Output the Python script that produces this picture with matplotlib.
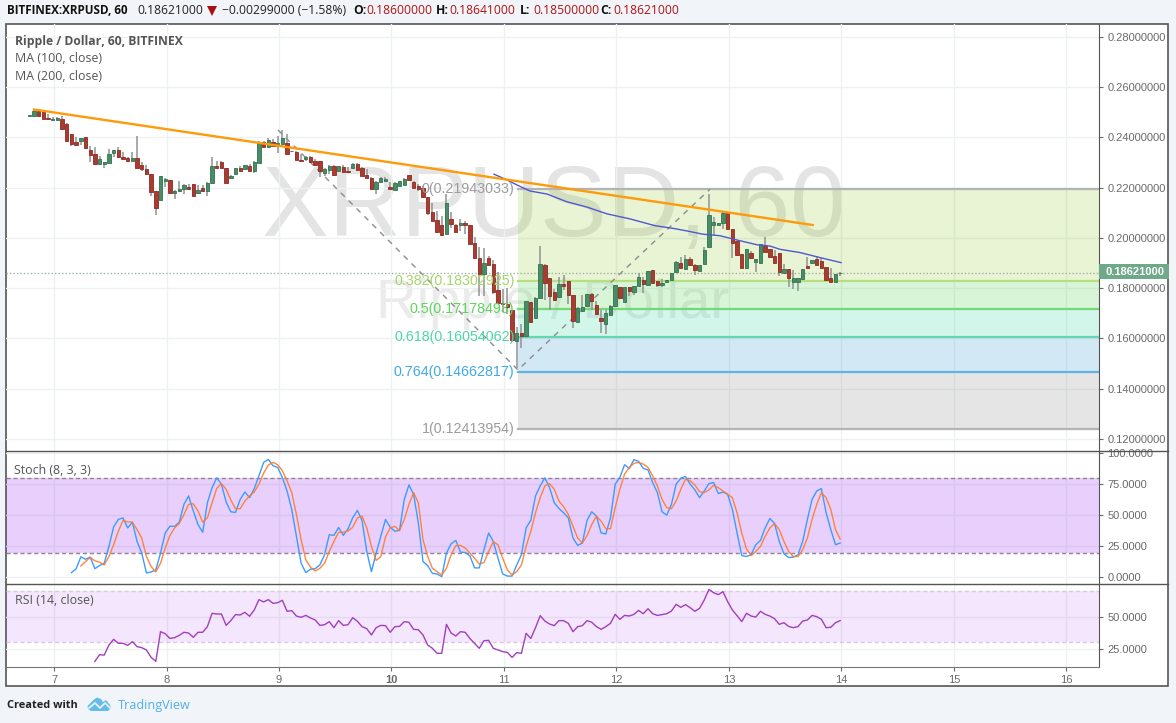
# XRP/USD hourly chart with stochastic and RSI panes
import numpy as np
import matplotlib
matplotlib.use('Agg')
import matplotlib.pyplot as plt
from matplotlib.patches import Rectangle, Polygon
from matplotlib.lines import Line2D

W, H = 1176, 723
BG = '#f1f4f8'
FRAME = '#555555'
GRID = '#eef0f2'
TICK = '#6a6a6a'
UI_FONT = ['Open Sans', 'DejaVu Sans']
AXIS_FONT = ['Liberation Sans', 'DejaVu Sans']

# hourly candles, price * 1000
opens = [248.5,248.4,250.4,250.1,247.6,246.9,246.9,247.2,245.5,241.3,
         238.3,238.8,240,235,233.5,229.5,229.6,230,234,235.2,
         232.4,231.9,230.8,231.9,229.1,227.6,225.5,218.8,215.2,222.7,
         223.2,218,218.8,219.3,220.4,221.6,218,219.9,218.8,221.7,
         228.8,230.4,228,223.7,225.5,228,227.5,228.8,226.5,230,
         238.1,236.4,238.3,236.5,237.5,237.9,234.8,234.3,231.2,231.3,
         232.3,230.5,230.5,225.7,227.1,228.8,226.8,228.1,226.8,228,
         229.6,228,225.2,223.9,219.5,222.1,222.7,220.4,219.2,220.5,
         221.1,224.9,222.4,220.8,219.9,216.3,210.4,207.1,205.1,201.7,
         207.5,205.1,205,206,205.1,198,192,185.7,192,189.6,
         179.4,174.1,173.7,171.3,159.1,162.2,160.9,174.4,168.3,176.3,
         189.4,184.1,178.7,176.5,181.6,182.7,177.5,166.6,170.9,173.1,
         177.9,173.5,168.1,165.9,169.5,172.8,180.3,174.7,180.3,178.7,
         180.7,183.2,181.1,187.2,182.7,181.2,182.4,183.2,186.5,190.2,
         187.8,191.5,189.4,186.9,189.5,196.3,205.2,205.2,205.8,209.8,
         203.6,198.8,193.5,187.9,194,190.3,190.1,197,195.5,192.8,
         193.9,185.9,187.7,182.6,182.4,183.6,188.9,189.9,191.7,190.9,
         188.3,184,182.6,186]
highs = [248.8,250.8,251.1,250.4,249.2,248.1,248.1,248.4,245.7,241.5,
         240.1,239.9,240.1,236.7,236.1,232.8,230.3,235.5,235.1,236.1,
         234.3,232.1,234.4,240.4,230.1,229.1,225.5,218.8,224.7,224,
         223.2,219,222.8,221.5,221.5,221.6,221.1,221.2,222.1,232.4,
         230.8,230.8,228,225.1,227.9,228.8,229.1,229.5,230.5,238.5,
         238.5,239.9,239.5,240.5,242.8,241.2,234.8,234.7,233.5,232.8,
         232.8,231.5,230.8,227.7,229.1,229.2,228.8,229.1,228.1,229.7,
         229.9,228.1,227.5,224.1,222.8,224.1,224.4,222.1,222.1,222.8,
         223.7,225.1,222.6,221.5,220.5,216.5,213.9,210.8,208.9,217.5,
         210.5,205.5,207.5,206.9,205.1,200.2,196.5,195.9,192.9,191.2,
         186.6,179.7,180.1,171.5,164.4,165.9,174.9,174.4,176.6,196.7,
         189.6,184.1,179.5,184.5,185.4,182.7,177.5,172.6,177.5,177.9,
         178.3,175,171.3,171.5,173.2,181.2,180.3,180.4,180.3,180.8,
         186.2,184.5,186.8,187.4,182.9,183.5,183.2,186.2,190.9,192.5,
         193.1,192.5,189.8,189.3,196.3,217.5,208.5,206.1,210.5,210,
         203.6,198.8,193.5,195.5,195,191.7,197.5,200.3,195.5,195.2,
         193.9,189.7,187.7,187.3,184,187.7,192.6,191.3,192.9,192.2,
         188.3,187.9,185.7,186.41]
lows = [248.5,248.4,248.5,247.2,247.1,246.8,246.8,243.2,238.7,236.5,
        237.1,237.2,235.3,230.1,229.5,229.2,227.9,230,232.4,231.9,
        231.5,230.4,230.8,227.7,226.8,225.2,216.8,209.2,215.2,220.1,
        218,215.7,218.5,217.7,219.5,216.7,217.7,218.5,216.8,221.7,
        227.9,227.9,221.9,223.7,225.2,226.7,227.3,226.5,225.9,230,
        236.3,236.4,236.5,234,237.5,233.5,234.5,231,230.7,230.5,
        230.3,229.1,224.1,224.8,225.5,225.1,226.1,226,225.9,227.9,
        227.1,224.7,223.9,219.2,217.7,222,222.4,219.5,219.1,220.5,
        221,223.2,220,218.8,216,209.1,206.6,202.2,200.9,201.6,
        204.1,202.2,202.6,201.6,197.7,191.6,176.8,177,189.1,177.7,
        174,170.4,169.7,158.5,148.2,156.4,160.9,166.3,168.3,176.3,
        175.5,171.3,174.9,176.3,179.2,173.6,164,166.5,170.9,173.1,
        171.5,169.7,162.2,161.6,169.4,172.7,175.8,174.7,177.1,177.2,
        180.7,178.1,180.9,181.9,180.3,180.3,181.9,183.2,186.5,188.1,
        187.8,189,185.2,186.9,189.5,196.3,201.2,205.2,203.5,203.4,
        192.2,193,187.9,187.7,191.8,186.3,189.9,194.4,192.2,189.9,
        185,185.9,180.4,179.7,178.9,183.5,187.9,189.9,189.1,187.8,
        183,182.2,182.4,185]
closes = [248.8,250.4,248.5,247.3,247.2,247.3,247.6,243.3,238.8,237.5,
          237.2,239.9,235.7,232.9,229.6,231.5,230.3,233.5,235.1,232.1,
          231.6,230.5,231.9,227.9,227.3,225.3,218.3,211.9,224.7,223.3,
          218,218.8,219.5,221.1,219.6,216.7,219.2,218.8,222,228.8,
          228,228,221.9,224.5,227.9,226.8,229.1,226.7,230.3,237.7,
          236.4,239.1,236.7,237.9,239.6,233.6,234.5,231.2,230.8,232.3,
          230.4,229.2,226.8,227.5,228.8,225.2,228.7,226.1,226.1,229.5,
          227.2,224.8,224,219.3,222.4,224,223.3,219.6,221.9,222.6,
          223.6,223.2,220,219.5,216.2,209.9,206.7,202.2,201.2,213.9,
          205.5,202.5,206,205,197.7,191.9,185.7,190,189.2,178.4,
          174.1,173.7,172.4,159.5,162.2,160.9,174.8,166.4,176.3,189.6,
          181.9,177.1,175.2,181.5,180.9,177.5,166.8,172.3,172.7,177.8,
          174.8,169.9,166.8,170,173.1,181.2,176,180.4,179.1,180.8,
          184.3,181.5,186.8,181.9,181.2,182,183.2,186.2,190.5,188.2,
          191.5,189.2,187.2,189.3,195.2,209.2,206.2,206.1,210.1,203.6,
          198,193.2,187.9,195.5,191.9,191.7,197.5,194.6,192.5,190.1,
          186.4,187.7,184,184.2,184,187.7,188.1,191.3,189.3,187.9,
          183.1,182.4,185.7,186.21]

# moving average line
ma_days = [10.911,11.027,11.116,11.231,11.382,11.56,11.738,11.916,12.12,12.342,12.52,
           12.627,12.769,12.92,13.071,13.249,13.364,13.453,13.631,13.809,13.996]
ma_vals = [225.4,223.1,221.1,218.7,217.5,214.4,212.3,209.6,207.6,204.9,203.7,
           202.8,201.5,200.9,199.2,197.3,196.8,195.5,194.2,192.2,190.2]

# trend line and the dashed fib anchor path
trend_days = [6.822, 13.744]
trend_vals = [251.14, 205.17]
anchor_days = [8.991, 11.124, 12.831]
anchor_vals = [243.0, 147.5, 219.43]

# fibonacci retracement
fib_start = 11.124
fib_ratio = ['0', '0.382', '0.5', '0.618', '0.764', '1']
fib_vals = [0.21943033, 0.18302925, 0.17178493, 0.16054062, 0.14662817, 0.12413954]
fib_line = ['#b4b4b4', '#b5e081', '#74d874', '#62d8b2', '#62b4e4', '#b4b4b4']
fib_text = ['#9c9c9c', '#a6d669', '#5bd65b', '#4ed6a6', '#3fa9e2', '#9c9c9c']
fib_fill = ['#8cc823', '#3ccd3c', '#23d296', '#238ccd', '#7f7f7f']

stoch_k = [3.8,6.8,16.5,14.6,16.3,7,9.5,11.4,25,40.7,46.7,48,39.9,44.5,29,19.5,3.5,4.3,6,19.5,
           35.8,41.2,41.2,44.5,58.9,65.7,53.5,42.6,36.4,60.2,72.4,80.3,75.2,60.8,52.9,52.4,62.9,68.9,64.3,71.6,
           81.9,92.8,95.2,90.1,88.7,80.6,69.7,54.8,33.1,11.4,3.8,6.5,7,10,18.2,34.4,33.9,40.2,33.9,39.1,
           48,54,45.9,20.9,4.6,19.5,33.1,46.7,40.4,37.2,38,62.9,74.6,67,44,12.7,9.5,3.2,2.7,0.5,
           19.5,27.1,29.8,20.3,20.1,17.4,7.6,7.6,22.2,35.8,29,15.5,2.7,1,1,10,18.2,39.9,46.1,65.7,
           73.8,80.3,72.4,60.2,55.6,52.1,48,31.7,25.8,27.7,46.1,52.9,49.4,35.8,35,48,75.2,80.6,90.9,87.9,
           95,93.6,87.9,86.8,76.5,68.4,52.9,50.2,58.9,75.2,80,81.4,75.2,70.6,64.3,69.7,75.7,76.5,67.6,68.9,
           67,54.8,35.8,17.6,16.8,18.2,26.3,29.8,39.9,47.5,43.4,29,19,16,16.3,18.2,29,46.7,62.9,69.7,
           71.6,52.1,38.5,26.3,27.7]
stoch_d = [9.2,12.7,16,13.3,12.2,10,16.8,26.3,37.2,45.9,44.8,44.5,38.5,31.7,16.8,8.7,4.3,11.4,23.6,33.6,
           39.9,43.4,50.7,58.9,59.4,53.5,44.5,48,60.2,71.9,75.7,71.1,62.4,55.4,55.4,61.6,65.7,68.9,75.2,84.1,
           90.6,92.8,90.9,86,77.9,68.4,50.7,30.4,14.1,8.1,5.1,7.3,11.4,20.9,29,36.4,36.4,37.4,40.4,48,
           49.4,39.9,25,13.6,16.8,32.6,39.9,41.2,37.7,46.7,58.9,68.4,60.2,30.4,16.8,7.3,4.6,1.9,7.3,18.2,
           25.5,25.8,23.6,19.5,15.5,10.8,11.9,20.9,28.8,26.3,15.5,6,1.9,4.6,10,25,37.2,52.1,64.3,73.8,
           75.7,71.1,61.6,57,50.7,41.2,31.7,27.7,33.6,42.6,49.4,45.3,39.3,39.3,56.2,71.1,83.3,88.7,92,92.8,
           91.4,88.7,81.9,73.8,62.9,56.2,55.4,61.6,71.1,79.2,77.9,74.6,69.2,68.4,70.6,74.3,72.4,69.7,67,64.3,
           52.1,35.8,23,17.6,20.9,25,33.1,39.9,43.4,38.5,29,20.9,16.8,16.8,22.2,31.7,46.7,58.9,68.4,64.3,
           54.8,38.5,30.9]
rsi = [15.1,20.3,20,27.9,32.3,29.2,29.2,27.6,30.5,26.6,25.8,24,18.2,15.1,38.3,36.7,33,33.6,35.4,37.8,
       37.2,33.9,37.8,37.8,42.2,52.6,52.1,52.1,43.2,46.9,51.6,51.3,53.4,50.3,55.2,63.3,61.5,63.3,60.4,60.9,
       62.8,54.2,54.7,50.5,49.5,51,49,47.4,43.2,43.7,46.1,41.4,46.9,43.2,43.7,49.2,46.4,42.2,40.6,35.7,
       41.4,43.2,43,37.8,42.2,42.4,46.1,45.6,40.1,39.8,35.7,27.9,25.3,21.4,21.4,44,37.2,34.9,38.3,37.8,
       33,29.2,25.3,31.2,31.5,25.3,24,22.7,22.1,18.2,21.9,21.4,37,33,41.4,50.8,46.6,44.3,43,46.9,
       46.9,44.8,38.3,42.2,43,46.9,45.6,42.2,40.1,42.2,44.8,51.8,47.9,51,50.5,51.8,54.9,52.3,56.2,52.3,
       51,51.6,52.3,54.4,59.6,57.3,59.4,57,54.2,56.5,63,71.3,68.7,67.2,69.5,61.7,55.2,50.8,46.1,52.6,
       50.5,49.7,54.2,51.8,50.5,48.4,44,45.3,42.4,41.4,42.2,46.6,47.4,51,50,47.9,41.4,41.7,45.3,46.9]

day_ticks = [7, 8, 9, 10, 11, 12, 13, 14, 15, 16]
price_ticks = [0.12, 0.14, 0.16, 0.18, 0.20, 0.22, 0.24, 0.26, 0.28]
stoch_ticks = [0, 25, 50, 75, 100]
rsi_ticks = [25, 50]
last_price = 0.18621

first_day = 6.78
hours = np.arange(len(opens))
days = first_day + hours / 24
opens, highs, lows, closes = [np.array(a) / 1000 for a in (opens, highs, lows, closes)]


def fx(x):
    return x / W


def fy(y):
    return 1 - y / H


def pane(top, bottom):
    ax = fig.add_axes([fx(6), fy(bottom), fx(1099 - 6), (bottom - top) / H])
    ax.set_xlim(6.5733, 16.289)
    ax.set_facecolor('none')
    ax.yaxis.tick_right()
    ax.set_xticks(day_ticks)
    ax.grid(True, color=GRID, lw=1)
    ax.set_axisbelow(True)
    for s in ax.spines.values():
        s.set_visible(False)
    ax.spines['right'].set_visible(True)
    ax.spines['right'].set_color(FRAME)
    ax.tick_params(axis='y', length=3, color=TICK, labelcolor=TICK, labelsize=8, pad=3)
    ax.tick_params(axis='x', length=0, labelbottom=False)
    return ax


def hline(y, x0=6, x1=1168, color=FRAME, lw=1):
    fig.add_artist(Line2D([fx(x0), fx(x1)], [fy(y), fy(y)], color=color, lw=lw,
                          transform=fig.transFigure))


fig = plt.figure(figsize=(W / 100, H / 100), dpi=100, facecolor=BG)
fig.add_artist(Rectangle((fx(6), fy(686)), fx(1162), 662 / H, transform=fig.transFigure,
                         facecolor='white', edgecolor=FRAME, lw=1.2, zorder=-1))

# price pane
ax = pane(24, 451)
ax.set_ylim(0.11522, 0.28517)
ax.set_yticks(price_ticks)
ax.set_yticklabels(['%.8f' % p for p in price_ticks], family=AXIS_FONT)

# big symbol watermark, sits under the fib zones
ax.text(7 + (554 - 54) / 112.5, 0.2113, 'XRPUSD, 60', color='#e4e4e4', fontsize=72,
        family=AXIS_FONT, ha='center', va='center', zorder=0)
ax.text(7 + (553 - 54) / 112.5, 0.1737, 'Ripple / Dollar', color='#ebebeb', fontsize=40.5,
        family=AXIS_FONT, ha='center', va='center', zorder=0)

# fib zones, level lines and labels
x_right = ax.get_xlim()[1]
for i in range(5):
    ax.fill_between([fib_start, x_right], fib_vals[i + 1], fib_vals[i], color=fib_fill[i],
                    alpha=0.2, lw=0, zorder=1)
for i in range(6):
    ax.plot([fib_start, x_right], [fib_vals[i]] * 2, color=fib_line[i], lw=1.6, zorder=2)
    ax.text(fib_start - 0.03, fib_vals[i], '%s(%.8f)' % (fib_ratio[i], fib_vals[i]),
            color=fib_text[i], fontsize=10.3, family=AXIS_FONT, ha='right', va='center', zorder=7)

ax.axhline(last_price, color='#9cb5a5', lw=1, ls=(0, (1, 1.5)), zorder=2)
ax.plot(anchor_days, np.array(anchor_vals) / 1000, color='#8c8c8c', lw=1, ls=(0, (4, 4)), zorder=3)

# candles
up = closes >= opens
ax.vlines(days, lows, highs, color='#929292', lw=1.1, zorder=4)
ax.bar(days[up], (closes - opens)[up], bottom=opens[up], width=0.72 / 24, color='#4a8c66',
       edgecolor='#2f7450', lw=0.6, zorder=5)
ax.bar(days[~up], (opens - closes)[~up], bottom=closes[~up], width=0.72 / 24, color='#a83c30',
       edgecolor='#8f2a22', lw=0.6, zorder=5)

ax.plot(ma_days, np.array(ma_vals) / 1000, color='#5058d0', lw=1, zorder=6)
ax.plot(trend_days, np.array(trend_vals) / 1000, color='#ff9a0a', lw=1.7, zorder=6)

# stochastic pane
ax2 = pane(451, 584)
ax2.set_ylim(-5.4, 102)
ax2.set_yticks(stoch_ticks)
ax2.set_yticklabels(['%.4f' % v for v in stoch_ticks], family=AXIS_FONT)
ax2.axhspan(20, 80, color='#9114f0', alpha=0.2, lw=0, zorder=1)
ax2.axhline(80, color='#8e8496', lw=1, ls=(0, (3, 2)), zorder=2)
ax2.axhline(20, color='#8e8496', lw=1, ls=(0, (3, 2)), zorder=2)
ax2.plot(first_day + (9 + np.arange(len(stoch_k))) / 24, stoch_k, color='#3d9bff', lw=1, zorder=3)
ax2.plot(first_day + (11 + np.arange(len(stoch_d))) / 24, stoch_d, color='#ff7a2a', lw=1,
         alpha=0.9, zorder=4)

# RSI pane
ax3 = pane(584, 667)
ax3.set_ylim(10.7, 75.5)
ax3.set_yticks(rsi_ticks)
ax3.set_yticklabels(['%.4f' % v for v in rsi_ticks], family=AXIS_FONT)
ax3.axhspan(30, 70, color='#9b0feb', alpha=0.1, lw=0, zorder=1)
ax3.axhline(70, color='#dcc6e4', lw=1, ls=(0, (3, 2)), zorder=2)
ax3.axhline(30, color='#dcc6e4', lw=1, ls=(0, (3, 2)), zorder=2)
ax3.plot(first_day + (14 + np.arange(len(rsi))) / 24, rsi, color='#a040bc', lw=1, zorder=3)

ax3.tick_params(axis='x', length=3, color=TICK, labelcolor=TICK, labelsize=8, pad=3, labelbottom=True)
ax3.spines['bottom'].set_visible(True)
ax3.spines['bottom'].set_color('#777777')
ax3.set_xticks(day_ticks)
ax3.set_xticklabels([str(d) for d in day_ticks], family=AXIS_FONT)
for t in ax3.get_xticklabels():
    if t.get_text() == '10':
        t.set_fontweight('bold')

hline(451)
hline(584)

# current price tag on the axis
fig.add_artist(Rectangle((fx(1099), fy(279)), fx(70), 15 / H, transform=fig.transFigure,
                         facecolor='#6fa98a', edgecolor='none'))
fig.text(fx(1106), fy(272), '%.8f' % last_price, color='white', fontsize=8, fontweight='bold',
         family=AXIS_FONT, va='center')


def label(x, y, s, color='#555555', size=8.9, weight='normal', family=UI_FONT):
    return fig.text(fx(x), fy(y), s, color=color, fontsize=size, fontweight=weight,
                    family=family, va='center')


# top header
RED = '#b01212'
label(7, 10, 'BITFINEX:XRPUSD, 60', color='#111111', size=8.4, weight='bold')
label(137, 10, '0.18621000', color='#222222', size=8.7)
label(222, 10, '\u22120.00299000 (\u22121.58%)', color='#222222', size=8.7)
fig.add_artist(Polygon([(fx(207), fy(6)), (fx(217), fy(6)), (fx(212), fy(16))],
                       transform=fig.transFigure, facecolor='#a80f0f', edgecolor='none'))
for x, key, val in [(353, 'O:', '0.18600000'), (436, 'H:', '0.18641000'),
                    (520, 'L:', '0.18500000'), (600, 'C:', '0.18621000')]:
    label(x, 10, key, color='#111111', size=8.7, weight='bold')
    label(x + 13, 10, val, color=RED, size=8.7)

# pane legends
label(15, 42, 'Ripple / Dollar, 60, BITFINEX', size=8.7, weight='bold')
label(15, 59, 'MA (100, close)')
label(15, 76, 'MA (200, close)')
label(14, 470, 'Stoch (8, 3, 3)')
label(15, 601, 'RSI (14, close)')

# footer
label(7, 705, 'Created with', color='#222222', size=7.9, weight='bold')
label(118, 705, 'TradingView', color='#4fb0e6', size=9.1)
cloud = [(87.5, 706), (94, 699.5), (97, 697.5), (101, 699), (103, 702), (106, 700), (110, 705),
         (111, 708), (108, 711), (91, 711), (88, 709)]
fig.add_artist(Polygon([(fx(x), fy(y)) for x, y in cloud], transform=fig.transFigure,
                       facecolor='#62bdea', edgecolor='none'))
zig = [(89, 708), (95, 703), (100, 708), (105, 703), (110, 708)]
fig.add_artist(Line2D([fx(x) for x, y in zig], [fy(y) for x, y in zig], color=BG, lw=1.2,
                      transform=fig.transFigure))

fig.savefig('out.png', dpi=100, facecolor=BG)
plt.close()
